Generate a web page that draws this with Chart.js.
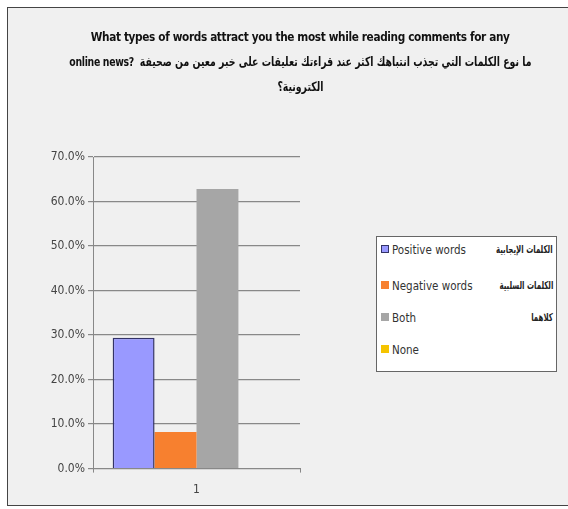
<!DOCTYPE html>
<html>
<head>
<meta charset="utf-8">
<script src="https://cdn.jsdelivr.net/npm/chart.js@4.4.1/dist/chart.umd.min.js"></script>
<style>
  body { margin: 0; background: #ffffff; }
  #wrap { position: relative; width: 568px; height: 509px; overflow: hidden; }
  #frame {
    position: absolute; left: 7px; top: 7px; width: 570px; height: 499px;
    background: #f0f0f0; border: 1px solid #444; box-sizing: border-box;
  }
  #chart { position: absolute; left: 0; top: 0; }
  .title {
    position: absolute; left: -100px; width: 800px; text-align: center; white-space: nowrap;
    font-family: "DejaVu Sans Condensed", "Liberation Sans", sans-serif;
    font-weight: bold; font-size: 13px; color: #111; letter-spacing: -0.4px;
    transform: scaleX(0.9); transform-origin: 402px 0;
  }
  #legend {
    position: absolute; left: 376px; top: 236px; width: 181px; height: 136px;
    background: #ffffff; border: 1px solid #666; box-sizing: border-box;
    font-family: "DejaVu Sans Condensed", "Liberation Sans", sans-serif;
    font-size: 11.5px; color: #333;
  }
  .item { position: absolute; left: 4px; right: 3px; height: 16px; line-height: 16px; white-space: nowrap; }
  .sw { display: inline-block; width: 6px; height: 6px; margin-right: 3px; vertical-align: 1px; }
  .ar {
    position: absolute; right: 0; top: 0; direction: rtl;
    font-family: "DejaVu Sans", sans-serif; font-size: 11px; font-weight: bold; color: #222;
    transform: scaleX(0.64); transform-origin: right center;
  }
</style>
</head>
<body>
<div id="wrap">
  <div id="frame"></div>
  <canvas id="chart" width="568" height="509"></canvas>
  <div class="title" style="top:29px">What types of words attract you the most while reading comments for any</div>
  <div class="title" style="top:54px; transform: scaleX(0.8)">online news? &nbsp;<span dir="rtl">ما نوع الكلمات التي تجذب انتباهك اكثر عند قراءتك تعليقات على خبر معين من صحيفة</span></div>
  <div class="title" style="top:79px; transform: scaleX(0.8)" dir="rtl">الكترونية؟</div>
  <div id="legend"></div>
</div>
<script>
const categories = ["1"];
const seriesNames = ["Positive words", "Negative words", "Both", "None"];
const seriesNamesAr = ["الكلمات الإيجابية", "الكلمات السلبية", "كلاهما", ""];
const seriesValues = [29.4, 8.2, 62.8, 0];
const seriesColors = ["#9999ff", "#f7802f", "#a6a6a6", "#f5c400"];
const seriesBorders = ["#333366", "#f7802f", "#a6a6a6", "#f5c400"];
const yTicks = [0, 10, 20, 30, 40, 50, 60, 70];

const datasets = seriesNames.map((name, i) => ({
  label: name,
  data: [seriesValues[i]],
  backgroundColor: seriesColors[i],
  borderColor: seriesBorders[i],
  borderWidth: i === 0 ? 1.5 : 0,
  barPercentage: 1,
  categoryPercentage: 0.81
}));

const fontFam = '"DejaVu Sans Condensed", "Liberation Sans", sans-serif';

new Chart(document.getElementById("chart").getContext("2d"), {
  type: "bar",
  data: { labels: categories, datasets: datasets },
  options: {
    responsive: false,
    animation: false,
    layout: { padding: { left: 40, right: 268, top: 157, bottom: 2 } },
    plugins: { legend: { display: false }, tooltip: { enabled: false } },
    scales: {
      x: {
        grid: { display: true, drawOnChartArea: false, offset: true, color: "#888", tickLength: 4 },
        border: { color: "#888" },
        ticks: { color: "#444", font: { family: fontFam, size: 12 }, padding: 10 }
      },
      y: {
        min: 0, max: 70,
        afterFit: (axis) => { axis.width = 53; },
        afterBuildTicks: (axis) => { axis.ticks = yTicks.map(v => ({ value: v })); },
        grid: { color: "#888", lineWidth: 1.2, tickLength: 5 },
        border: { color: "#888" },
        ticks: {
          color: "#444", font: { family: fontFam, size: 12 }, padding: 3,
          callback: (v) => v.toFixed(1) + "%"
        }
      }
    }
  }
});

const legend = document.getElementById("legend");
const itemTops = [5, 41, 73, 105];
seriesNames.forEach((name, i) => {
  const d = document.createElement("div");
  d.className = "item";
  d.style.top = itemTops[i] + "px";
  d.innerHTML = '<span class="sw" style="background:' + seriesColors[i] + ';border:1px solid ' + (i === 0 ? '#333366' : seriesColors[i]) + '"></span>' + name +
    (seriesNamesAr[i] ? '<span class="ar">' + seriesNamesAr[i] + '</span>' : '');
  legend.appendChild(d);
});
</script>
</body>
</html>
